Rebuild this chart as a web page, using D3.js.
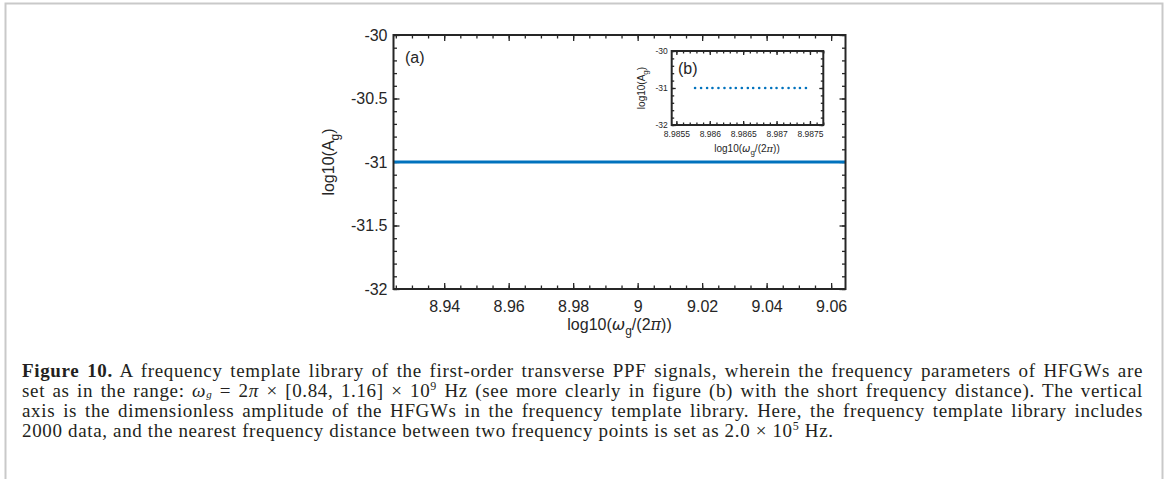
<!DOCTYPE html>
<html>
<head>
<meta charset="utf-8">
<script src="https://cdn.jsdelivr.net/npm/d3@7"></script>
<style>
	body { margin: 0; background: #fff; }
	#wrap { position: relative; width: 1165px; height: 479px; overflow: hidden; }
	svg { position: absolute; left: 0; top: 0; }
	#caption {
		position: absolute; left: 22px; top: 361px; width: 1121px;
		font-family: "Liberation Serif", "DejaVu Serif", serif;
		font-size: 19px; letter-spacing: 0.65px; line-height: 20px; color: #231f20;
	}
	#caption div { height: 20px; text-align: justify; text-align-last: justify; }
	#caption div.last { text-align-last: left; }
	#caption sup { font-size: 12px; line-height: 0; }
	#caption sub { font-size: 11px; line-height: 0; vertical-align: -1px; }
</style>
</head>
<body>
<div id="wrap">
	<div id="chart"></div>
	<div id="caption">
		<div><b>Figure 10.</b> A frequency template library of the first-order transverse PPF signals, wherein the frequency parameters of HFGWs are</div>
		<div>set as in the range: <i>ω<sub>g</sub></i> = 2<i>π</i> × [0.84, 1.16] × 10<sup>9</sup> Hz (see more clearly in figure (b) with the short frequency distance). The vertical</div>
		<div>axis is the dimensionless amplitude of the HFGWs in the frequency template library. Here, the frequency template library includes</div>
		<div class="last">2000 data, and the nearest frequency distance between two frequency points is set as 2.0 × 10<sup>5</sup> Hz.</div>
	</div>
</div>
<script>
// main panel (a): log10 frequency vs log10 amplitude
const mainLogFreq = [8.92428, 9.06446];
const mainLogAmp = [-31, -31];
const mainXTicks = [8.94, 8.96, 8.98, 9, 9.02, 9.04, 9.06];
const mainXTickLabels = ["8.94", "8.96", "8.98", "9", "9.02", "9.04", "9.06"];
const mainYTicks = [-32, -31.5, -31, -30.5, -30];
const mainYTickLabels = ["-32", "-31.5", "-31", "-30.5", "-30"];

// inset panel (b): individual template points
const insetLogFreq = [8.98578, 8.98587, 8.98596, 8.98604, 8.98613, 8.98622, 8.98631, 8.98639, 8.98648, 8.98657,
	8.98665, 8.98674, 8.98683, 8.98692, 8.98700, 8.98709, 8.98718, 8.98727, 8.98735, 8.98744];
const insetLogAmp = [-31, -31, -31, -31, -31, -31, -31, -31, -31, -31,
	-31, -31, -31, -31, -31, -31, -31, -31, -31, -31];
const insetXTicks = [8.9855, 8.986, 8.9865, 8.987, 8.9875];
const insetXTickLabels = ["8.9855", "8.986", "8.9865", "8.987", "8.9875"];
const insetYTicks = [-32, -31, -30];
const insetYTickLabels = ["-32", "-31", "-30"];

const W = 1165, H = 479;
const blue = "#0072BD", ink = "#262626";
const sans = "'Liberation Sans', Arial, sans-serif";

const svg = d3.select("#chart").append("svg")
	.attr("width", W)
	.attr("height", H);

// page frame
svg.append("path")
	.attr("d", "M5.5,479V3.5H1162.5V479")
	.attr("fill", "none")
	.attr("stroke", "#c9c9c9")
	.attr("stroke-width", 2);

function panel({x0, x1, y0, y1, xDomain, yDomain, xTicks, xLabels, yTicks, yLabels, xMinor, yMinor,
	majorLen, minorLen, fontSize, xPad, yPad}) {
	const x = d3.scaleLinear().domain(xDomain).range([x0, x1]);
	const y = d3.scaleLinear().domain(yDomain).range([y1, y0]);
	const g = svg.append("g");

	g.append("rect")
		.attr("x", x0).attr("y", y0)
		.attr("width", x1 - x0).attr("height", y1 - y0)
		.attr("fill", "#fff");

	const fmt = (labels, ticks) => d => labels[ticks.indexOf(d)];

	// ticks point inward, on all four sides
	const xAxes = [
		[d3.axisBottom(x).tickValues(xMinor).tickSize(-minorLen).tickFormat(""), y1],
		[d3.axisTop(x).tickValues(xMinor).tickSize(-minorLen).tickFormat(""), y0],
		[d3.axisTop(x).tickValues(xTicks).tickSize(-majorLen).tickFormat(""), y0],
		[d3.axisBottom(x).tickValues(xTicks).tickSize(-majorLen).tickPadding(xPad).tickFormat(fmt(xLabels, xTicks)), y1]
	];
	xAxes.forEach(([ax, ty]) => {
		const a = g.append("g").attr("transform", `translate(0,${ty})`).call(ax.tickSizeOuter(0));
		a.select(".domain").remove();
	});
	const yAxes = [
		[d3.axisLeft(y).tickValues(yMinor).tickSize(-minorLen).tickFormat(""), x0],
		[d3.axisRight(y).tickValues(yMinor).tickSize(-minorLen).tickFormat(""), x1],
		[d3.axisRight(y).tickValues(yTicks).tickSize(-majorLen).tickFormat(""), x1],
		[d3.axisLeft(y).tickValues(yTicks).tickSize(-majorLen).tickPadding(yPad).tickFormat(fmt(yLabels, yTicks)), x0]
	];
	yAxes.forEach(([ax, tx]) => {
		const a = g.append("g").attr("transform", `translate(${tx},0)`).call(ax.tickSizeOuter(0));
		a.select(".domain").remove();
	});

	g.selectAll(".tick line").attr("stroke", ink).attr("stroke-width", 1.3);
	g.selectAll(".tick text")
		.attr("fill", ink)
		.style("font-family", sans)
		.style("font-size", fontSize + "px");

	return {g, x, y};
}

function label(g, size, attrs) {
	const t = g.append("text")
		.attr("text-anchor", "middle")
		.style("font-family", sans).style("font-size", size + "px").attr("fill", ink);
	Object.entries(attrs).forEach(([k, v]) => t.attr(k, v));
	return t;
}

// panel (a)
const a = panel({
	x0: 393.5, x1: 845.5, y0: 35, y1: 289,
	xDomain: [8.92428, 9.06446], yDomain: [-32, -30],
	xTicks: mainXTicks, xLabels: mainXTickLabels,
	yTicks: mainYTicks, yLabels: mainYTickLabels,
	xMinor: d3.range(8.925, 9.065, 0.005), yMinor: d3.range(-32, -29.95, 0.1),
	majorLen: 6, minorLen: 3.5, fontSize: 16, xPad: 12, yPad: 6
});

a.g.append("path")
	.datum(mainLogFreq.map((f, i) => [f, mainLogAmp[i]]))
	.attr("d", d3.line().x(d => a.x(d[0])).y(d => a.y(d[1])))
	.attr("fill", "none")
	.attr("stroke", blue)
	.attr("stroke-width", 3);

a.g.append("rect")
	.attr("x", 393.5).attr("y", 35).attr("width", 452).attr("height", 254)
	.attr("fill", "none").attr("stroke", ink).attr("stroke-width", 2);

a.g.append("text")
	.attr("x", 405).attr("y", 63)
	.style("font-family", sans).style("font-size", "16px").attr("fill", ink)
	.text("(a)");

const yl = label(a.g, 16, {transform: "translate(334,162) rotate(-90)"});
yl.append("tspan").text("log10(A");
yl.append("tspan").attr("dy", 5).style("font-size", "12px").text("g");
yl.append("tspan").attr("dy", -5).text(")");

const xl = label(a.g, 16, {x: 619.5, y: 330});
xl.append("tspan").text("log10(");
xl.append("tspan").style("font-family", "'DejaVu Sans', sans-serif").style("font-style", "italic").text("ω");
xl.append("tspan").attr("dy", 5).style("font-size", "12px").text("g");
xl.append("tspan").attr("dy", -5).text("/(2");
xl.append("tspan").style("font-family", "'DejaVu Serif', serif").style("font-style", "italic").text("π");
xl.append("tspan").text("))");

// panel (b) inset
const b = panel({
	x0: 671.7, x1: 823.3, y0: 51, y1: 125,
	xDomain: [8.98543, 8.98770], yDomain: [-32, -30],
	xTicks: insetXTicks, xLabels: insetXTickLabels,
	yTicks: insetYTicks, yLabels: insetYTickLabels,
	xMinor: d3.range(8.9855, 8.98771, 0.0001), yMinor: d3.range(-32, -29.95, 0.2),
	majorLen: 4, minorLen: 2.5, fontSize: 8.5, xPad: 6, yPad: 4
});

b.g.selectAll("circle")
	.data(insetLogFreq.map((f, i) => [f, insetLogAmp[i]]))
	.enter().append("circle")
	.attr("cx", d => b.x(d[0]))
	.attr("cy", d => b.y(d[1]))
	.attr("r", 1.3)
	.attr("fill", blue);

b.g.append("rect")
	.attr("x", 671.7).attr("y", 51).attr("width", 151.6).attr("height", 74)
	.attr("fill", "none").attr("stroke", ink).attr("stroke-width", 2);

b.g.append("text")
	.attr("x", 678).attr("y", 74)
	.style("font-family", sans).style("font-size", "16px").attr("fill", ink)
	.text("(b)");

const byl = label(b.g, 10, {transform: "translate(645,88) rotate(-90)"});
byl.append("tspan").text("log10(A");
byl.append("tspan").attr("dy", 3).style("font-size", "8px").text("g");
byl.append("tspan").attr("dy", -3).text(")");

const bxl = label(b.g, 10, {x: 747, y: 152});
bxl.append("tspan").text("log10(");
bxl.append("tspan").style("font-family", "'DejaVu Sans', sans-serif").style("font-style", "italic").text("ω");
bxl.append("tspan").attr("dy", 3).style("font-size", "8px").text("g");
bxl.append("tspan").attr("dy", -3).text("/(2");
bxl.append("tspan").style("font-family", "'DejaVu Serif', serif").style("font-style", "italic").text("π");
bxl.append("tspan").text("))");
</script>
</body>
</html>
